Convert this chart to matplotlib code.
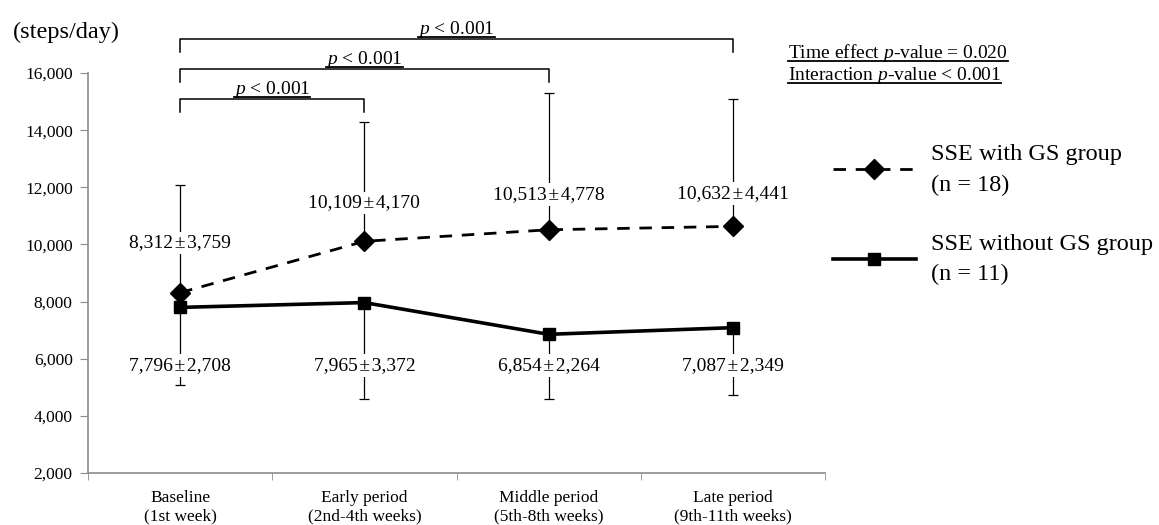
"""
Daily step counts over the intervention period for the two SSE groups,
with one-sided SD error bars and the pairwise p-value brackets.
"""

import matplotlib
matplotlib.use('Agg')
import matplotlib.pyplot as plt
from matplotlib.lines import Line2D
import numpy as np

plt.rcParams['font.family'] = ['Liberation Serif', 'DejaVu Serif']
plt.rcParams['mathtext.fontset'] = 'custom'
plt.rcParams['mathtext.rm'] = 'Liberation Serif'
plt.rcParams['mathtext.it'] = 'Liberation Serif:italic'

# data
periods = ['Baseline\n(1st week)', 'Early period\n(2nd-4th weeks)',
           'Middle period\n(5th-8th weeks)', 'Late period\n(9th-11th weeks)']
gs_mean = [8312, 10109, 10513, 10632]
gs_sd = [3759, 4170, 4778, 4441]
nogs_mean = [7796, 7965, 6854, 7087]
nogs_sd = [2708, 3372, 2264, 2349]
gs_label = ['SSE with GS group\n(n = 18)']
nogs_label = ['SSE without GS group\n(n = 11)']
# brackets: (start index, end index, text)
brackets = [(0, 1, '$p$ < 0.001'), (0, 2, '$p$ < 0.001'), (0, 3, '$p$ < 0.001')]

W, H = 1159, 525
fig = plt.figure(figsize=(W / 100, H / 100), dpi=100)
ax = fig.add_axes([88 / W, 1 - 473 / H, (825 - 88) / W, (473 - 73) / H])

x = np.arange(len(periods))
grey = '#8c8c8c'

# error bars (one sided)
ax.errorbar(x, gs_mean, yerr=[np.zeros(4), gs_sd], fmt='none', ecolor='k',
            elinewidth=0.9, capsize=3.5, capthick=0.9, zorder=1)
ax.errorbar(x, nogs_mean, yerr=[nogs_sd, np.zeros(4)], fmt='none', ecolor='k',
            elinewidth=0.9, capsize=3.5, capthick=0.9, zorder=1)

l1, = ax.plot(x, gs_mean, color='k', lw=2.0, ls=(0, (4.5, 3.5)), marker='D',
              ms=10.5, zorder=3)
l2, = ax.plot(x, nogs_mean, color='k', lw=2.6, ls='-', marker='s',
              ms=8, zorder=3)

# value labels
pm = '\u200a±\u200a'
gs_text_y = [10050, 11450, 11750, 11770]
for i in range(4):
    ax.text(x[i], gs_text_y[i], f'{gs_mean[i]:,}{pm}{gs_sd[i]:,}', ha='center',
            va='center', fontsize=14, zorder=2,
            bbox=dict(boxstyle='square,pad=0.15', fc='white', ec='none'))
    ax.text(x[i], 5750, f'{nogs_mean[i]:,}{pm}{nogs_sd[i]:,}', ha='center',
            va='center', fontsize=14, zorder=2,
            bbox=dict(boxstyle='square,pad=0.15', fc='white', ec='none'))

ax.set_xlim(-0.5, 3.5)
ax.set_ylim(2000, 16000)
ax.set_yticks(range(2000, 16001, 2000))
ax.set_yticklabels([f'{v:,}' for v in range(2000, 16001, 2000)])
ax.set_xticks(x)
ax.set_xticklabels(periods)
ax.set_xticks(np.arange(-0.5, 4, 1), minor=True)
ax.tick_params(axis='x', which='major', length=0, pad=12, labelsize=12.5)
ax.tick_params(axis='x', which='minor', length=5, color=grey, direction='out')
ax.tick_params(axis='y', length=6, color=grey, pad=5, labelsize=12.5)
for side in ['top', 'right']:
    ax.spines[side].set_visible(False)
for side in ['left', 'bottom']:
    ax.spines[side].set_color(grey)
    ax.spines[side].set_linewidth(1.2)

# p-value brackets above the plot
bracket_y = [15090, 16140, 17190]
underlined = []
for (i0, i1, txt), by in zip(brackets, bracket_y):
    ax.plot([x[i0], x[i0], x[i1], x[i1]], [by - 450, by, by, by - 450],
            color='k', lw=1.1, clip_on=False)
    t = ax.text((x[i0] + x[i1]) / 2, by + 190, txt, ha='center',
                va='baseline', fontsize=14)
    underlined.append(t)

fig.text(13 / W, 1 - 32 / H, '(steps/day)', fontsize=17.5, va='center')
underlined.append(fig.text(788 / W, 1 - 58 / H, 'Time effect $p$-value = 0.020',
                           fontsize=14, va='baseline'))
underlined.append(fig.text(788 / W, 1 - 80 / H, 'Interaction $p$-value < 0.001',
                           fontsize=14, va='baseline'))

leg = fig.legend([l1, l2], gs_label + nogs_label, loc='upper left',
                 bbox_to_anchor=(833 / W, 1 - 144 / H), frameon=False,
                 fontsize=17.5, handlelength=3.4, handletextpad=0.65,
                 labelspacing=1.55, borderpad=0, borderaxespad=0)
for t in leg.get_texts():
    t.set_linespacing(1.6)

# underline the annotation texts
fig.canvas.draw()
renderer = fig.canvas.get_renderer()
inv = fig.transFigure.inverted()
for t in underlined:
    bb = t.get_window_extent(renderer)
    base = t.get_transform().transform(t.get_position())[1] - 3
    (fx0, fy), (fx1, _) = inv.transform([(bb.x0, base), (bb.x1, base)])
    fig.add_artist(Line2D([fx0, fx1], [fy, fy], color='k', lw=1.3,
                          transform=fig.transFigure))

fig.savefig('out.png', dpi=100)
